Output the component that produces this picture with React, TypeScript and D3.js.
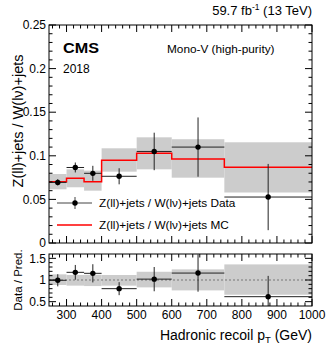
import React from "react";
import * as d3 from "d3";

// bins in hadronic recoil pT (GeV)
const binEdges = [250, 300, 350, 400, 500, 600, 750, 1000];

// Z(ll)+jets / W(lv)+jets data
const dataValues = [0.0695, 0.0866, 0.0799, 0.0765, 0.105, 0.110, 0.0527];
const dataErrors = [0.0037, 0.0057, 0.0086, 0.0092, 0.0215, 0.034, 0.038];

// MC prediction and its uncertainty band
const mcValues = [0.0703, 0.0742, 0.0703, 0.0948, 0.1028, 0.0963, 0.0868];
const mcBandLow = [0.0616, 0.0639, 0.0600, 0.0818, 0.0845, 0.0749, 0.0579];
const mcBandHigh = [0.0791, 0.0845, 0.0830, 0.1086, 0.1212, 0.1190, 0.1155];

// ratio panel
const ratioValues = [0.993, 1.177, 1.154, 0.80, 1.02, 1.16, 0.615];
const ratioErrors = [0.14, 0.17, 0.21, 0.15, 0.28, 0.43, 0.48];
const ratioBandLow = [0.885, 0.87, 0.86, 0.87, 0.83, 0.76, 0.66];
const ratioBandHigh = [1.13, 1.115, 1.12, 1.115, 1.19, 1.245, 1.36];

const xTicks = [300, 400, 500, 600, 700, 800, 900, 1000];
const topYTicks = [0, 0.05, 0.1, 0.15, 0.2, 0.25];
const topYLabels = ["0", "0.05", "0.1", "0.15", "0.2", "0.25"];
const ratioYTicks = [0.5, 1, 1.5];
const ratioYLabels = ["0.5", "1", "1.5"];

const font = "'Liberation Sans', Arial, Helvetica, sans-serif";

const App = () => {
    const [width, height] = [332, 347];
    const left = 49, right = 312;
    const topPanel = { top: 25, bottom: 243 };
    const ratioPanel = { top: 254, bottom: 306 };

    const x = d3.scaleLinear().domain([250, 1000]).range([left, right]);
    const y = d3.scaleLinear().domain([0, 0.25]).range([topPanel.bottom, topPanel.top]);
    const yr = d3.scaleLinear().domain([0.4, 1.6]).range([ratioPanel.bottom, ratioPanel.top]);

    const centers = binEdges.slice(0, -1).map((e, i) => (e + binEdges[i + 1]) / 2);

    // step line for MC
    const stepPts: [number, number][] = mcValues.map((v, i) => [binEdges[i], v]);
    stepPts.push([binEdges[binEdges.length - 1], mcValues[mcValues.length - 1]]);
    const stepLine = d3.line<[number, number]>()
        .x((d) => x(d[0]))
        .y((d) => y(d[1]))
        .curve(d3.curveStepAfter);

    const xMinor = d3.range(260, 1000, 20).filter((v) => v % 100 !== 0);
    const topMinor = d3.range(0.01, 0.25, 0.01).filter((v) => Math.abs(v / 0.05 - Math.round(v / 0.05)) > 0.01);
    const ratioMinor = d3.range(0.5, 1.6, 0.1).filter((v) => Math.abs(v * 2 - Math.round(v * 2)) > 0.01);

    const frameTicks = (yScale: d3.ScaleLinear<number, number>, panel: { top: number; bottom: number },
        yMajor: number[], yMinor: number[], majLen: number) => (
        <g stroke="#000" strokeWidth={1}>
            {xTicks.map((t) => (
                <g key={"xm" + t}>
                    <line x1={x(t)} x2={x(t)} y1={panel.bottom} y2={panel.bottom - majLen} />
                    <line x1={x(t)} x2={x(t)} y1={panel.top} y2={panel.top + majLen} />
                </g>
            ))}
            {xMinor.map((t) => (
                <g key={"xn" + t}>
                    <line x1={x(t)} x2={x(t)} y1={panel.bottom} y2={panel.bottom - majLen / 2} />
                    <line x1={x(t)} x2={x(t)} y1={panel.top} y2={panel.top + majLen / 2} />
                </g>
            ))}
            {yMajor.map((t) => (
                <g key={"ym" + t}>
                    <line x1={left} x2={left + 7} y1={yScale(t)} y2={yScale(t)} />
                    <line x1={right} x2={right - 7} y1={yScale(t)} y2={yScale(t)} />
                </g>
            ))}
            {yMinor.map((t) => (
                <g key={"yn" + t}>
                    <line x1={left} x2={left + 3.5} y1={yScale(t)} y2={yScale(t)} />
                    <line x1={right} x2={right - 3.5} y1={yScale(t)} y2={yScale(t)} />
                </g>
            ))}
            <rect x={left} y={panel.top} width={right - left} height={panel.bottom - panel.top} fill="none" />
        </g>
    );

    return (
        <svg width={width} height={height} style={{ display: "block", position: "absolute", left: 0, top: 0 }}
            fontFamily={font}>
            <rect width={width} height={height} fill="#fff" />

            {/* top panel */}
            <g>
                {mcBandLow.map((lo, i) => (
                    <rect key={"b" + i} x={x(binEdges[i])} width={x(binEdges[i + 1]) - x(binEdges[i])}
                        y={y(mcBandHigh[i])} height={y(lo) - y(mcBandHigh[i])} fill="#cccccc" />
                ))}
                <path d={stepLine(stepPts) || ""} fill="none" stroke="#ff0000" strokeWidth={1.5} />
                {dataValues.map((v, i) => (
                    <g key={"d" + i} stroke="#222" strokeWidth={1}>
                        <line x1={x(binEdges[i])} x2={x(binEdges[i + 1])} y1={y(v)} y2={y(v)} />
                        <line x1={x(centers[i])} x2={x(centers[i])} y1={y(v - dataErrors[i])} y2={y(v + dataErrors[i])} />
                        <circle cx={x(centers[i])} cy={y(v)} r={2.7} fill="#000" stroke="none" />
                    </g>
                ))}
                {frameTicks(y, topPanel, topYTicks, topMinor, 7)}
                {topYTicks.map((t, i) => (
                    <text key={"yl" + t} x={left - 3} y={y(t)} dy="0.35em" textAnchor="end" fontSize={12}>
                        {topYLabels[i]}
                    </text>
                ))}

                {/* legend */}
                <g>
                    <line x1={57} x2={92} y1={203} y2={203} stroke="#444" />
                    <line x1={75} x2={75} y1={197} y2={209} stroke="#444" />
                    <circle cx={75} cy={203} r={2.7} fill="#000" />
                    <text x={99} y={207} fontSize={11.8}>Z(ll)+jets / W(lν)+jets Data</text>
                    <line x1={57} x2={92} y1={225} y2={225} stroke="#ff0000" strokeWidth={1.5} />
                    <text x={99} y={229} fontSize={11.8}>Z(ll)+jets / W(lν)+jets MC</text>
                </g>

                <text x={63} y={53} fontSize={14} fontWeight="bold" textLength={36} lengthAdjust="spacingAndGlyphs">CMS</text>
                <text x={63} y={73} fontSize={12}>2018</text>
                <text x={167} y={53} fontSize={11.8}>Mono-V (high-purity)</text>
                <text x={312} y={15} textAnchor="end" fontSize={13}>
                    59.7 fb<tspan dy={-5} fontSize={8.5}>-1</tspan><tspan dy={5}> (13 TeV)</tspan>
                </text>
                <text transform={`translate(23,121) rotate(-90)`}
                    textAnchor="middle" fontSize={14.5}>Z(ll)+jets / W(lν)+jets</text>
            </g>

            {/* ratio panel */}
            <g>
                {ratioBandLow.map((lo, i) => (
                    <rect key={"rb" + i} x={x(binEdges[i])} width={x(binEdges[i + 1]) - x(binEdges[i])}
                        y={yr(ratioBandHigh[i])} height={yr(lo) - yr(ratioBandHigh[i])} fill="#cccccc" />
                ))}
                <line x1={left} x2={right} y1={yr(1)} y2={yr(1)} stroke="#777" strokeDasharray="2,2" strokeWidth={1.2} />
                <clipPath id="rclip">
                    <rect x={left} y={ratioPanel.top} width={right - left} height={ratioPanel.bottom - ratioPanel.top} />
                </clipPath>
                <g clipPath="url(#rclip)">
                    {ratioValues.map((v, i) => (
                        <g key={"r" + i} stroke="#222" strokeWidth={1}>
                            <line x1={x(binEdges[i])} x2={x(binEdges[i + 1])} y1={yr(v)} y2={yr(v)} />
                            <line x1={x(centers[i])} x2={x(centers[i])} y1={yr(v - ratioErrors[i])} y2={yr(v + ratioErrors[i])} />
                            <circle cx={x(centers[i])} cy={yr(v)} r={2.7} fill="#000" stroke="none" />
                        </g>
                    ))}
                </g>
                {frameTicks(yr, ratioPanel, ratioYTicks, ratioMinor, 7)}
                {ratioYTicks.map((t, i) => (
                    <text key={"ryl" + t} x={left - 3} y={yr(t)} dy="0.35em" textAnchor="end" fontSize={12}>
                        {ratioYLabels[i]}
                    </text>
                ))}
                {xTicks.map((t) => (
                    <text key={"xl" + t} x={x(t)} y={319} textAnchor="middle" fontSize={12}>{t}</text>
                ))}
                <text transform={`translate(22,280) rotate(-90)`}
                    textAnchor="middle" fontSize={11.5}>Data / Pred.</text>
                <text x={312} y={340} textAnchor="end" fontSize={14}>
                    Hadronic recoil p<tspan dy={3} fontSize={9.5}>T</tspan><tspan dy={-3}> (GeV)</tspan>
                </text>
            </g>
        </svg>
    );
};

export default App;
